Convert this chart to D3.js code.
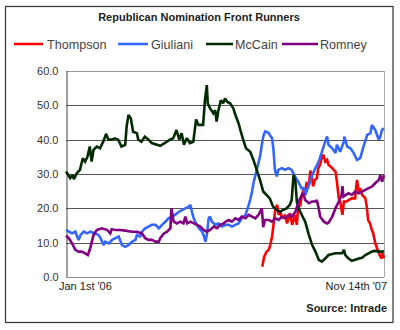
<!DOCTYPE html>
<html>
<head>
<meta charset="utf-8">
<script src="https://cdn.jsdelivr.net/npm/d3@7/dist/d3.min.js"></script>
<style>
  html, body { margin: 0; padding: 0; background: #fff; }
  svg { display: block; }
  text { font-family: "Liberation Sans", Arial, sans-serif; }
</style>
</head>
<body>
<svg id="chart" width="400" height="330"></svg>
<script>
// ---- data (day = days since Jan 1st '06, value = price) ----
const title = "Republican Nomination Front Runners";
const seriesNames = ["Thompson", "Giuliani", "McCain", "Romney"];
const seriesColors = ["#ff0000", "#3366ff", "#002a00", "#800080"];
const yTicks = [0, 10, 20, 30, 40, 50, 60];
const xLabels = ["Jan 1st '06", "Nov 14th '07"];
const xDomain = [0, 682];
const source = "Source: Intrade";

const thompson = [[421,3],[425,5.9],[430,7.3],[435,8],[438,9.3],[442,11.8],[445,15.2],[449,20],[453,21],[456,18.1],[460,19],[463,17.1],[470,18.1],[474,15.6],[481,18.6],[485,15.2],[492,18.1],[495,15.2],[499,22],[502,20.5],[506,23.9],[509,25.4],[513,24.9],[516,27.3],[521,26.8],[524,31],[527,29.7],[530,26.4],[534,28.3],[538,28.8],[541,31.7],[545,32.7],[549,35.1],[552,35.6],[556,33.6],[560,34.1],[563,32.7],[571,31.7],[574,31.2],[578,30.7],[581,27.8],[585,22.9],[588,22],[591,19.5],[593,18.1],[596,22],[602,22],[606,22.4],[613,22.9],[620,22.9],[624,28.3],[628,24.9],[631,25.9],[635,23.9],[642,22.9],[645,20.5],[648,16.6],[652,15.6],[656,13.7],[659,12.7],[663,10],[666,8.8],[670,7.3],[673,6.3],[677,5.4],[679,7],[680,5.5],[682,6.4]];

const giuliani = [[0,13.7],[6,13.2],[13,12.7],[20,13.2],[24,11.8],[27,10.8],[31,12.2],[38,13.2],[45,12.7],[52,13.2],[63,12.7],[70,12.2],[74,11.3],[81,9.3],[84,10.3],[92,9.8],[99,10.8],[106,11.3],[113,11.8],[120,9.3],[127,8.8],[134,9.3],[142,10.3],[149,10.8],[152,12.2],[159,11.8],[163,13.2],[170,14.2],[177,14.7],[184,15.2],[192,15.2],[199,14.2],[206,15.2],[213,16.1],[220,17.1],[227,17.6],[234,18.1],[242,19],[249,19.5],[256,20],[263,20.5],[267,21],[270,19],[274,17.1],[277,16.1],[285,14.2],[292,13.2],[295,12.2],[299,10.3],[302,12.2],[306,17.1],[309,17.6],[313,16.1],[320,15.2],[327,15.6],[335,14.7],[342,15.2],[349,15.2],[356,14.7],[363,15.2],[370,15.6],[377,17.1],[385,18.1],[392,21],[395,22.5],[399,24.9],[402,27.3],[409,31.2],[416,35],[420,38.5],[423,40.9],[427,42.4],[430,42.3],[435,41.9],[437,41.4],[442,40.4],[445,37],[448,31.2],[452,29.3],[455,31.2],[463,31.7],[470,31.2],[477,31.7],[484,31.2],[491,29.3],[498,27.8],[505,25.9],[509,25.9],[513,23.9],[521,26.8],[528,29.7],[535,31.7],[542,33.6],[549,36.5],[556,39.5],[560,40.9],[563,38.5],[571,37.5],[578,36.1],[581,38.5],[588,36.5],[596,39.5],[597,40.9],[603,38],[610,37.5],[617,36.1],[624,34.1],[631,34.6],[638,38],[646,41.4],[653,41.9],[656,44.3],[663,42.9],[671,39.9],[674,40.9],[678,42.9],[682,43.3]];

const mccain = [[0,30.7],[5,29.7],[9,28.8],[14,29.7],[17,28.5],[23,30.2],[30,31.2],[36,34.6],[41,33.6],[46,35],[51,38],[55,33.6],[59,37],[66,38],[73,37.5],[80,39.5],[86,41.7],[91,40],[98,40],[105,40.4],[112,40],[119,38],[127,38.5],[130,43.8],[134,47.2],[139,46.2],[144,42.3],[152,41.9],[155,40],[162,39.4],[169,40.9],[177,40],[184,39],[195,38.5],[202,38.2],[209,38.8],[216,39.4],[223,40],[230,40.4],[237,42.8],[243,40],[248,41.9],[253,38.5],[259,40.4],[266,39],[273,39.4],[279,45.9],[284,44.3],[287,44.3],[294,44.3],[298,51.5],[302,55.9],[304,50.6],[309,49.1],[316,47.7],[320,48.6],[323,45.3],[327,48.6],[332,51.5],[337,50.6],[341,52],[346,51],[352,50.6],[359,49.1],[362,47.7],[370,44.8],[375,42.3],[380,40],[386,37.5],[395,36.5],[402,34.1],[409,31.2],[416,28.3],[423,24.9],[430,23.9],[437,22.9],[444,20.5],[452,19.5],[459,19],[465,19.5],[473,20],[480,21],[484,22.4],[488,29.7],[492,27.8],[495,22],[499,20],[506,18],[513,16.1],[521,12.2],[528,9.3],[535,7.4],[542,5],[549,4.5],[556,5.4],[563,6.4],[578,6.9],[592,6.9],[596,7.9],[599,6.4],[606,5.4],[613,4.7],[620,5],[628,5.4],[635,5.6],[642,6.4],[649,6.9],[656,7.4],[663,7.6],[671,7.4],[678,7.4],[682,7.6]];

const romney = [[0,12],[6,11.3],[13,9.8],[20,7.9],[27,7.4],[34,7.4],[41,6.9],[47,6.4],[52,8.4],[59,12.2],[66,13.7],[77,14.2],[88,13.7],[95,12.7],[98,13.9],[106,13.7],[116,13.7],[127,13.5],[142,13.2],[152,13.2],[163,12.7],[170,11.3],[177,10.8],[184,10.8],[192,10.3],[199,10.3],[202,11.3],[210,12.7],[217,13.2],[224,14.2],[226,20],[231,16.1],[238,15.6],[245,16.1],[252,15.6],[256,17.6],[260,15.6],[267,16.1],[274,15.6],[281,15.2],[288,14.7],[295,13.7],[302,13.2],[309,13.7],[317,14.7],[324,14.2],[331,15.2],[338,15.6],[342,16.1],[349,16.6],[356,16.1],[363,17.1],[370,16.6],[377,17.6],[385,17.1],[392,18.1],[399,17.6],[406,17.1],[413,18.1],[420,20],[423,14.5],[427,16.6],[435,16.6],[442,16.1],[449,17.1],[456,16.6],[463,17.6],[470,17.1],[478,18.1],[485,17.6],[492,19],[499,22],[506,23.9],[509,24.4],[513,22.4],[521,21.5],[528,22],[535,22],[538,22.4],[542,20],[545,17.6],[553,16.1],[560,15.6],[563,15.8],[571,17.6],[578,20],[585,22],[591,23.9],[593,26.5],[595,23.4],[606,24.4],[613,23.9],[620,24.9],[628,24.4],[635,24.9],[642,25.4],[649,25.9],[656,26.3],[663,27.3],[671,28.3],[674,29.7],[678,27.8],[682,29.7]];

const seriesData = [thompson, giuliani, mccain, romney];

// ---- layout ----
const svg = d3.select("#chart");
const plot = { left: 66, right: 384, top: 71, bottom: 277 };

const x = d3.scaleLinear().domain(xDomain).range([plot.left, plot.right]);
const y = d3.scaleLinear().domain([0, 60]).range([plot.bottom, plot.top]);

// outer frame
svg.append("rect")
  .attr("x", 5.5).attr("y", 6.5).attr("width", 387.5).attr("height", 316)
  .attr("fill", "#fff").attr("stroke", "#333").attr("stroke-width", 1.2);

// title
svg.append("text")
  .attr("x", 199).attr("y", 21)
  .attr("text-anchor", "middle")
  .attr("font-size", 11).attr("font-weight", "bold").attr("fill", "#222")
  .text(title);

// legend
const legendPos = [[14, 43, 47], [118, 148, 151], [206, 233, 235], [282, 318, 320]];
const legend = svg.append("g");
seriesNames.forEach((name, i) => {
  const p = legendPos[i];
  legend.append("line")
    .attr("x1", p[0]).attr("x2", p[1]).attr("y1", 44).attr("y2", 44)
    .attr("stroke", seriesColors[i]).attr("stroke-width", 2.5);
  legend.append("text")
    .attr("x", p[2]).attr("y", 48.5)
    .attr("font-size", 12.6).attr("fill", "#444")
    .text(name);
});

// gridlines
svg.append("g").selectAll("line")
  .data(yTicks.filter(t => t > 0))
  .join("line")
  .attr("x1", plot.left).attr("x2", plot.right)
  .attr("y1", d => Math.round(y(d)) + 0.5).attr("y2", d => Math.round(y(d)) + 0.5)
  .attr("stroke", d => d === 60 ? "#999" : "#555").attr("stroke-width", 1);

// right border
svg.append("line")
  .attr("x1", plot.right + 0.5).attr("x2", plot.right + 0.5)
  .attr("y1", y(60)).attr("y2", y(0))
  .attr("stroke", "#aaa");

// y axis
const yAxis = d3.axisLeft(y).tickValues(yTicks).tickSize(0).tickPadding(8)
  .tickFormat(d3.format(".1f"));
const gy = svg.append("g").attr("transform", `translate(${plot.left + 0.5},0)`).call(yAxis);
gy.select(".domain").attr("stroke", "#444");
gy.selectAll("text").attr("font-size", 11).attr("fill", "#333")
  .attr("font-family", "'Liberation Sans', Arial, sans-serif");

// x axis baseline
svg.append("line")
  .attr("x1", plot.left).attr("x2", plot.right)
  .attr("y1", Math.round(y(0)) + 0.5).attr("y2", Math.round(y(0)) + 0.5)
  .attr("stroke", "#888");

// x labels
svg.append("text")
  .attr("x", x(xDomain[0]) - 7).attr("y", 290)
  .attr("font-size", 11).attr("fill", "#222")
  .text(xLabels[0]);
svg.append("text")
  .attr("x", x(xDomain[1]) + 3).attr("y", 290)
  .attr("text-anchor", "end")
  .attr("font-size", 11).attr("fill", "#222")
  .text(xLabels[1]);

// series lines
const line = d3.line().x(d => x(d[0])).y(d => y(d[1]));
svg.append("g").selectAll("path")
  .data(seriesData)
  .join("path")
  .attr("d", line)
  .attr("fill", "none")
  .attr("stroke", (d, i) => seriesColors[i])
  .attr("stroke-width", 2.6)
  .attr("stroke-linejoin", "miter")
  .attr("stroke-miterlimit", 2);

// source
svg.append("text")
  .attr("x", 387).attr("y", 312)
  .attr("text-anchor", "end")
  .attr("font-size", 11).attr("font-weight", "bold").attr("fill", "#222")
  .text(source);
</script>
</body>
</html>
